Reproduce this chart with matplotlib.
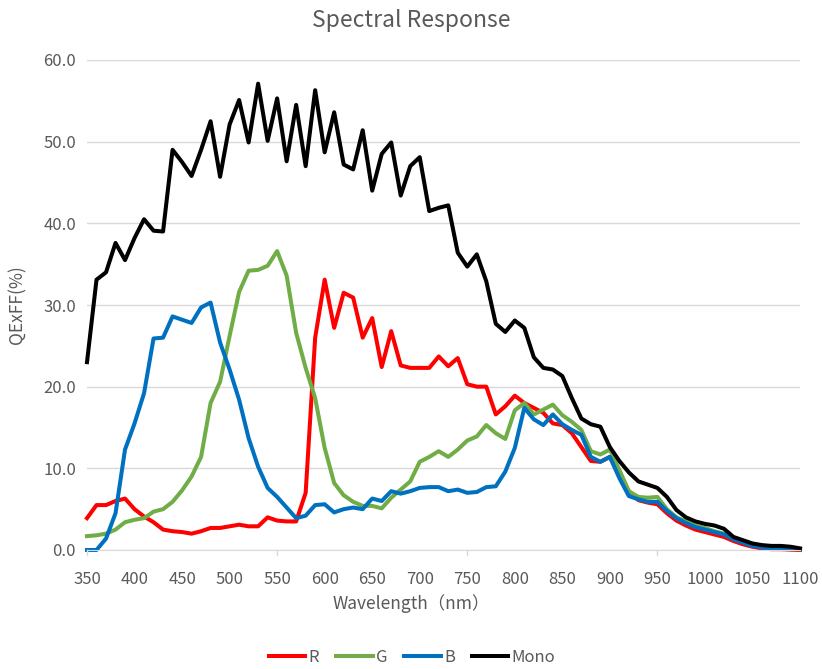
import numpy as np
import matplotlib
matplotlib.use("Agg")
import matplotlib.pyplot as plt

plt.rcParams['font.family'] = ['Liberation Sans Narrow', 'Noto Sans CJK JP', 'DejaVu Sans']

wavelength = list(range(350, 1101, 10))
tick_labels = [str(w) for w in range(350, 1101, 50)]

r_vals = [3.9, 5.5, 5.5, 6.0, 6.3, 5.0, 4.1, 3.4, 2.5, 2.3, 2.2, 2.0, 2.3, 2.7,
          2.7, 2.9, 3.1, 2.9, 2.9, 4.0, 3.6, 3.5, 3.5, 7.0, 26.0, 33.1, 27.2,
          31.5, 30.9, 26.0, 28.4, 22.4, 26.8, 22.6, 22.3, 22.3, 22.3, 23.7, 22.5,
          23.5, 20.3, 20.0, 20.0, 16.6, 17.6, 18.9, 18.0, 17.4, 16.8, 15.5, 15.3,
          14.3, 12.6, 10.9, 10.8, 11.4, 9.2, 7.2, 6.1, 5.8, 5.6, 4.5, 3.6, 3.0,
          2.5, 2.2, 1.9, 1.6, 1.1, 0.7, 0.4, 0.2, 0.1, 0.1, 0.05, 0.0]
g_vals = [1.7, 1.8, 2.0, 2.5, 3.4, 3.7, 3.9, 4.7, 5.0, 5.9, 7.3, 9.0, 11.4, 18.0,
          20.6, 26.2, 31.6, 34.2, 34.3, 34.8, 36.6, 33.6, 26.6, 22.3, 18.6, 12.5,
          8.2, 6.7, 5.9, 5.4, 5.4, 5.1, 6.4, 7.4, 8.4, 10.8, 11.4, 12.1, 11.4,
          12.3, 13.4, 13.9, 15.3, 14.3, 13.6, 17.1, 18.0, 16.6, 17.2, 17.8, 16.5,
          15.7, 14.7, 12.1, 11.7, 12.3, 9.8, 7.2, 6.5, 6.4, 6.5, 5.0, 4.0, 3.5,
          3.0, 2.7, 2.3, 2.0, 1.4, 1.0, 0.6, 0.4, 0.3, 0.3, 0.2, 0.1]
b_vals = [0.0, 0.0, 1.4, 4.5, 12.3, 15.5, 19.2, 25.9, 26.0, 28.6, 28.2, 27.8,
          29.7, 30.3, 25.4, 22.1, 18.4, 13.7, 10.2, 7.6, 6.5, 5.2, 3.9, 4.2, 5.5,
          5.6, 4.6, 5.0, 5.2, 5.0, 6.3, 6.0, 7.2, 6.9, 7.2, 7.6, 7.7, 7.7, 7.2,
          7.4, 7.0, 7.1, 7.7, 7.8, 9.6, 12.5, 17.4, 16.0, 15.3, 16.6, 15.4, 14.7,
          14.1, 11.4, 10.8, 11.4, 8.8, 6.6, 6.2, 5.9, 5.9, 4.8, 3.9, 3.3, 2.8,
          2.5, 2.2, 1.9, 1.3, 0.9, 0.5, 0.3, 0.2, 0.2, 0.1, 0.1]
mono_vals = [23.0, 33.1, 34.0, 37.6, 35.5, 38.2, 40.5, 39.1, 39.0, 49.0, 47.5,
             45.8, 49.0, 52.5, 45.7, 52.1, 55.1, 49.9, 57.1, 50.1, 55.3, 47.6,
             54.5, 47.0, 56.3, 48.7, 53.6, 47.2, 46.6, 51.4, 44.0, 48.5, 49.9,
             43.4, 47.0, 48.1, 41.5, 41.9, 42.2, 36.4, 34.7, 36.2, 32.9, 27.7,
             26.7, 28.1, 27.2, 23.6, 22.3, 22.1, 21.3, 18.6, 16.1, 15.4, 15.1,
             12.6, 10.9, 9.5, 8.4, 8.0, 7.6, 6.5, 4.9, 4.0, 3.5, 3.2, 3.0, 2.6,
             1.6, 1.2, 0.8, 0.6, 0.5, 0.5, 0.4, 0.2]

series = [('R', r_vals, '#FF0000'), ('G', g_vals, '#70AD47'),
          ('B', b_vals, '#0070C0'), ('Mono', mono_vals, '#000000')]

text_color = '#595959'
grid_color = '#D9D9D9'

fig = plt.figure(figsize=(8.22, 6.69), dpi=100)
ax = fig.add_axes([87/822, 1 - 550/669, (800 - 87)/822, (550 - 60)/669])

for name, vals, col in series:
    ax.plot(wavelength, vals, color=col, lw=2.9, label=name,
            solid_joinstyle='round', clip_on=False)

ax.set_xlim(350, 1100)
ax.set_ylim(0, 60)
ax.set_yticks(np.arange(0, 61, 10))
ax.set_yticklabels(['%.1f' % v for v in np.arange(0, 61, 10)])
ax.set_xticks(range(350, 1101, 50))
ax.set_xticklabels(tick_labels)
ax.tick_params(axis='both', colors=text_color, labelsize=12, length=0)
ax.tick_params(axis='x', pad=15)
ax.tick_params(axis='y', pad=8)

# excel style: tick marks only every 20 categories
for xt in range(350, 1101, 200):
    ax.plot([xt, xt], [0, -0.6], color=grid_color, lw=1, clip_on=False)

ax.grid(axis='y', color=grid_color, lw=1)
ax.set_axisbelow(True)
for s in ['top', 'right', 'left']:
    ax.spines[s].set_visible(False)
ax.spines['bottom'].set_color(grid_color)

# title and x label are centred on the whole figure, like excel does
fig.text(411/822, 1 - 20/669, 'Spectral Response', fontsize=16.5,
         color=text_color, ha='center', va='center')
fig.text(411/822, 1 - 604/669, 'Wavelength（nm）', fontsize=12.5,
         color=text_color, ha='center', va='center')
ax.set_ylabel('QExFF(%)', fontsize=12.5, color=text_color, labelpad=12)

fig.legend(loc='center', bbox_to_anchor=(412/822, 1 - 657/669), ncol=4,
           frameon=False, fontsize=12, handlelength=2.2, columnspacing=1.0,
           handletextpad=0.2, labelcolor=text_color)

fig.savefig('out.png', dpi=100)
